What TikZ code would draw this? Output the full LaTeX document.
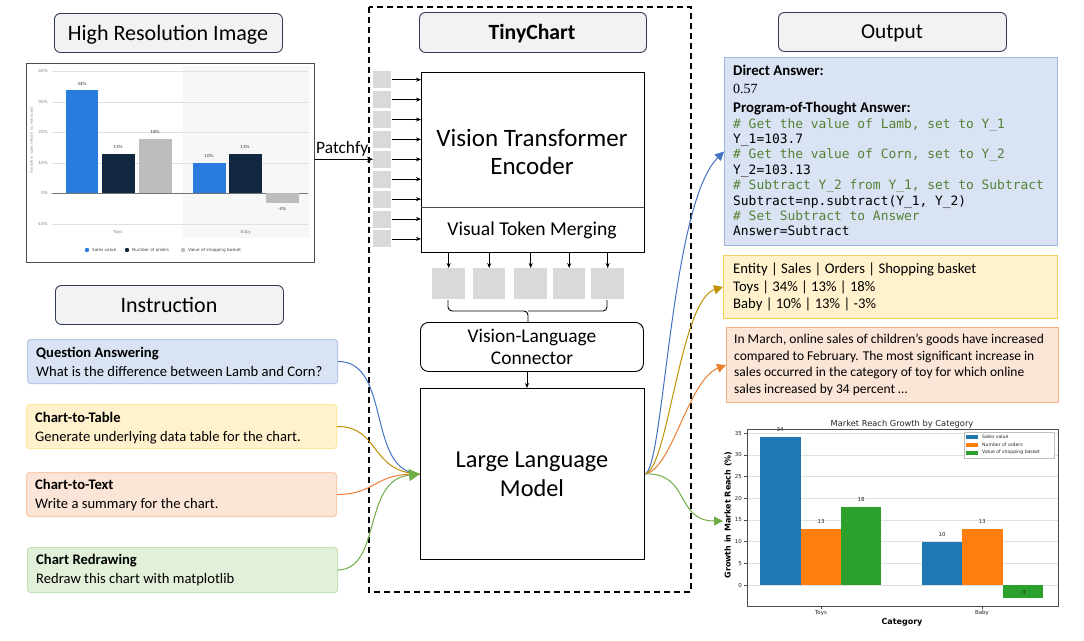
\documentclass[tikz,border=0pt]{standalone}
\usepackage{fontspec}
\setmainfont{Carlito}
\newfontfamily\codefont{DejaVu Sans Mono}
\newfontfamily\mplfont{DejaVu Sans}
\newfontfamily\numfont{Liberation Serif}
\usetikzlibrary{arrows.meta}
\newcommand\fsz[1]{\fontsize{#1}{#1}\selectfont}
\definecolor{navy}{HTML}{2F3B55}
\definecolor{titlefill}{HTML}{F2F2F2}
\definecolor{qafill}{HTML}{DAE3F3}\definecolor{qadraw}{HTML}{B4C7E7}
\definecolor{tabfill}{HTML}{FFF2CC}\definecolor{tabdraw}{HTML}{FFE699}
\definecolor{txtfill}{HTML}{FBE5D6}\definecolor{txtdraw}{HTML}{F8CBAD}
\definecolor{redfill}{HTML}{E2F0D9}\definecolor{reddraw}{HTML}{C5E0B4}
\definecolor{oblue}{HTML}{9DB4DE}\definecolor{ogold}{HTML}{F2CF5B}\definecolor{oorange}{HTML}{F4B183}
\definecolor{cblue}{HTML}{4472C4}\definecolor{cgold}{HTML}{BF9000}
\definecolor{corange}{HTML}{ED7D31}\definecolor{cgreen}{HTML}{70AD47}
\definecolor{codegreen}{HTML}{548235}
\definecolor{hrblue}{HTML}{2A7BDE}\definecolor{hrnavy}{HTML}{11263F}\definecolor{hrgray}{HTML}{BDBDBD}
\definecolor{mblue}{HTML}{1F77B4}\definecolor{morange}{HTML}{FF7F0E}\definecolor{mgreen}{HTML}{2CA02C}
\tikzset{
  titlebox/.style={draw=navy, fill=titlefill, rounded corners=6pt, line width=0.9pt, anchor=north west},
  plainbox/.style={draw=black, line width=0.9pt, anchor=north west, inner sep=0pt},
  instbox/.style={rounded corners=3pt, line width=1pt, anchor=north west, inner sep=0pt},
  outbox/.style={line width=1pt, anchor=north west, inner sep=0pt},
  patch/.style={fill=black!15, anchor=north west, minimum width=18, minimum height=17, inner sep=0pt},
  tok/.style={fill=black!15, anchor=north west, minimum height=31, inner sep=0pt},
  small arrow/.style={-{Stealth[length=5pt,width=4pt]}, line width=0.6pt},
  txt/.style={inner sep=0pt, anchor=base west},
  ctxt/.style={inner sep=0pt, anchor=base},
  conn/.style={line width=1pt},
  hrtxt/.style={inner sep=0pt, font=\mplfont\fontsize{4.2}{5}\selectfont},
  mpltxt/.style={inner sep=0pt, font=\mplfont\fontsize{5.5}{6}\selectfont, text=black!85},
}
\begin{document}
\begin{tikzpicture}[x=1pt,y=-1pt]
\useasboundingbox (0,0) rectangle (1084,640);
\fill[white] (0,0) rectangle (1084,640);

% ---------- Left column ----------
\node[titlebox, minimum width=228, minimum height=39] (hrt) at (54,13) {};
\node[ctxt] (hrtl) at (168,40) {\fsz{22}High Resolution Image};

% chart image
\node[plainbox, draw=black!70, line width=1.4pt, minimum width=288, minimum height=199] (hrimg) at (26,63) {};
\fill[black!3] (183,66) rectangle (310,238);
\foreach \yy in {71,102,132,163,224} \draw[black!12, line width=0.4pt] (52,\yy) -- (308,\yy);
\draw[black!55, line width=0.6pt] (52,193) -- (308,193);
\foreach \yy/\lab in {71/40\%,102/30\%,132/20\%,163/10\%,193/0\%,224/-10\%}
  \node[hrtxt, anchor=east, text=black!50] at (48,\yy) {\lab};
\node[hrtxt, rotate=90, text=black!45, font=\mplfont\fontsize{3.6}{4}\selectfont] (hry) at (32,140) {Growth in sales (March vs. February)};
\fill[hrblue] (66,90) rectangle (98,193);
\fill[hrnavy] (102,154) rectangle (135,193);
\fill[hrgray] (139,139) rectangle (172,193);
\fill[hrblue] (193,163) rectangle (226,193);
\fill[hrnavy] (229,154) rectangle (262,193);
\fill[hrgray] (266,193) rectangle (299,203);
\foreach \xx/\yy/\lab in {82/84/34\%,118/147/13\%,155/132/18\%,209/156/10\%,245/147/13\%,282/209/-3\%}
  \node[hrtxt, text=black!80] at (\xx,\yy) {\lab};
\node[hrtxt, text=black!50] at (118,232) {Toys};
\node[hrtxt, text=black!50] at (246,232) {Baby};
\fill[hrblue] (87,250) circle (2.2);
\node[hrtxt, anchor=west, text=black!75] at (92,250) {Sales value};
\fill[hrnavy] (127,250) circle (2.2);
\node[hrtxt, anchor=west, text=black!75] at (132,250) {Number of orders};
\fill[hrgray] (183,250) circle (2.2);
\node[hrtxt, anchor=west, text=black!75] at (188,250) {Value of shopping basket};

% Instruction
\node[titlebox, minimum width=228, minimum height=39] (inst) at (55,285) {};
\node[ctxt] (instl) at (169,312) {\fsz{22}Instruction};

\node[instbox, fill=qafill, draw=qadraw, minimum width=310, minimum height=44] (qa) at (27,339) {};
\node[txt] at (36,357) {\fsz{14.6}\bfseries Question Answering};
\node[txt] at (36,376) {\fsz{14.6}What is the difference between Lamb and Corn?};

\node[instbox, fill=tabfill, draw=tabdraw, minimum width=310, minimum height=44] (c2t) at (26,404) {};
\node[txt] at (35,422) {\fsz{14.6}\bfseries Chart-to-Table};
\node[txt] at (35,441) {\fsz{14.6}Generate underlying data table for the chart.};

\node[instbox, fill=txtfill, draw=txtdraw, minimum width=310, minimum height=44] (c2x) at (26,472) {};
\node[txt] at (35,489) {\fsz{14.6}\bfseries Chart-to-Text};
\node[txt] at (35,508) {\fsz{14.6}Write a summary for the chart.};

\node[instbox, fill=redfill, draw=reddraw, minimum width=310, minimum height=45] (crd) at (27,547) {};
\node[txt] at (36,564) {\fsz{14.6}\bfseries Chart Redrawing};
\node[txt] at (36,583) {\fsz{14.6}Redraw this chart with matplotlib};

% ---------- Center ----------
\draw[dashed, dash pattern=on 6pt off 4pt, line width=1.1pt] (369,7) rectangle (691,592);
\node[titlebox, minimum width=227, minimum height=40] (tc) at (419,12) {};
\node[ctxt] (tcl) at (532,39) {\fsz{21.7}\bfseries TinyChart};

\node[plainbox, minimum width=223, minimum height=180] (vit) at (421,72) {};
\draw[black!70, line width=0.6pt] (421,207) -- (644,207);
\node[ctxt] at (532,146) {\fsz{25}Vision Transformer};
\node[ctxt] at (532,174) {\fsz{25}Encoder};
\node[ctxt] at (532,235) {\fsz{19.6}Visual Token Merging};

\foreach \i in {1,...,9} {
  \node[patch] (p\i) at (373,{71+19.9*(\i-1)}) {};
  \draw[small arrow] (p\i.east) ++(1,0) -- (vit.west |- p\i.east);
}
\node[tok, minimum width=33] (t1) at (432,268) {};
\node[tok, minimum width=32] (t2) at (473,268) {};
\node[tok, minimum width=33] (t3) at (514,268) {};
\node[tok, minimum width=32] (t4) at (553,268) {};
\node[tok, minimum width=33] (t5) at (591,268) {};
\foreach \i in {1,...,5} \draw[small arrow] (vit.south -| t\i.north) -- (t\i.north);

\draw[line width=0.9pt, rounded corners=4pt] (448,300) |- (528,311) -- (528,322);
\draw[line width=0.9pt, rounded corners=4pt] (607,300) |- (528,311);

\node[plainbox, rounded corners=8pt, minimum width=223, minimum height=49] (vlc) at (420,322) {};
\node[ctxt] at (532,342) {\fsz{19.4}Vision-Language};
\node[ctxt] at (532,364) {\fsz{19.4}Connector};
\node[plainbox, minimum width=224, minimum height=171] (llm) at (420,388) {};
\node[ctxt] at (532,467) {\fsz{24.3}Large Language};
\node[ctxt] at (532,496) {\fsz{24.3}Model};
\draw[small arrow] (vlc.south -| 527,0) -- (llm.north -| 527,0);

% Patchfy
\draw[-{Stealth[length=6pt,width=5pt]}, line width=0.7pt] (hrimg.east |- p5.west) -- (p5.west);
\node[txt] (patchfy) at (316,153) {\fsz{17.4}Patchfy};

% ---------- Output ----------
\node[titlebox, minimum width=228, minimum height=39] (outt) at (778,12) {};
\node[ctxt] (outl) at (892,38) {\fsz{21.3}Output};

\node[outbox, fill=qafill, draw=oblue, minimum width=333, minimum height=188] (da) at (724,57) {};
\node[txt] at (733,75) {\fsz{14.8}\bfseries Direct Answer:};
\node[txt] at (733,93) {\numfont\fsz{14}0.57};
\node[txt] at (733,112) {\fsz{14.8}\bfseries Program-of-Thought Answer:};
\begin{scope}[every node/.append style={txt, font=\codefont\fontsize{12.9}{13}\selectfont}]
\node[text=codegreen] at (733,128) {\# Get the value of Lamb, set to Y\_1};
\node at (733,143.4) {Y\_1=103.7};
\node[text=codegreen] at (733,158.8) {\# Get the value of Corn, set to Y\_2};
\node at (733,174.2) {Y\_2=103.13};
\node[text=codegreen] at (733,189.6) {\# Subtract Y\_2 from Y\_1, set to Subtract};
\node at (733,205) {Subtract=np.subtract(Y\_1, Y\_2)};
\node[text=codegreen] at (733,220.4) {\# Set Subtract to Answer};
\node at (733,235.8) {Answer=Subtract};
\end{scope}

\node[outbox, fill=tabfill, draw=ogold, minimum width=334, minimum height=63] (tab) at (723,255) {};
\node[txt] at (733,273) {\fsz{14.7}Entity | Sales | Orders | Shopping basket};
\node[txt] at (733,291) {\fsz{14.7}Toys | 34\% | 13\% | 18\%};
\node[txt] at (733,308) {\fsz{14.7}Baby | 10\% | 13\% | -3\%};

\node[outbox, fill=txtfill, draw=oorange, minimum width=332, minimum height=75] (sum) at (726,327) {};
\begin{scope}[every node/.append style={txt, font=\fsz{13.5}}]
\node at (734,343) {In March, online sales of children’s goods have increased};
\node at (734,360) {compared to February. The most significant increase in};
\node at (734,376) {sales occurred in the category of toy for which online};
\node at (734,393) {sales increased by 34 percent …};
\end{scope}

% matplotlib chart
\node[inner sep=0pt, anchor=north west, minimum width=311, minimum height=177] (mpl) at (747,429) {};
\foreach \k in {0,...,7} {
  \pgfmathsetmacro\yy{585-5*\k*4.343}
  \draw[black!12, line width=0.4pt] (747,\yy) -- (1058,\yy);
  \draw[black!70, line width=0.4pt] (744,\yy) -- (747,\yy);
  \pgfmathtruncatemacro\v{5*\k}
  \node[mpltxt, anchor=east] at (742,\yy) {\v};
}
\fill[mblue] (760,437.3) rectangle (801,585);
\fill[morange] (801,528.5) rectangle (841,585);
\fill[mgreen] (841,506.8) rectangle (881,585);
\fill[mblue] (922,541.6) rectangle (962,585);
\fill[morange] (962,528.5) rectangle (1003,585);
\fill[mgreen] (1003,585) rectangle (1043,598);
\draw[black!70, line width=0.8pt] (mpl.north west) rectangle (mpl.south east);
\foreach \xx/\yy/\lab in {780/432/34,821/524/13,861/502/18,942/537/10,982/524/13}
  \node[mpltxt, anchor=south] at (\xx,\yy) {\lab};
\node[mpltxt] at (1023,592) {-3};
\draw[black!70, line width=0.4pt] (821,606) -- (821,609) (982,606) -- (982,609);
\node[mpltxt, anchor=north] at (821,610) {Toys};
\node[mpltxt, anchor=north] at (982,610) {Baby};
\node[ctxt, font=\mplfont\bfseries\fontsize{8}{9}\selectfont] (cat) at (902,624) {Category};
\node[inner sep=0pt, rotate=90, font=\mplfont\bfseries\fontsize{8}{9}\selectfont] (ylab) at (728,515) {Growth in Market Reach (\%)};
\node[ctxt, font=\mplfont\fontsize{8.3}{9}\selectfont, text=black!85] (mtitle) at (902,426) {Market Reach Growth by Category};
\draw[black!25, fill=white, line width=0.4pt] (964,432) rectangle (1054,458);
\fill[mblue] (966,434.5) rectangle (978,438.5);
\fill[morange] (966,442.5) rectangle (978,446.5);
\fill[mgreen] (966,450.5) rectangle (978,454.5);
\node[mpltxt, anchor=west, font=\mplfont\fontsize{4.6}{5}\selectfont] at (982,436.5) {Sales value};
\node[mpltxt, anchor=west, font=\mplfont\fontsize{4.6}{5}\selectfont] at (982,444.5) {Number of orders};
\node[mpltxt, anchor=west, font=\mplfont\fontsize{4.6}{5}\selectfont] at (982,452.5) {Value of shopping basket};

% ---------- Connectors ----------
\coordinate (llmin) at (llm.west);
\coordinate (llmout) at (llm.east);
\coordinate (mplin) at (723,521);
\draw[conn, cblue] (qa.east) .. controls (392,361) and (366,473) .. (llmin);
\draw[conn, cgold] (c2t.east) .. controls (380,426) and (370,473) .. (llmin);
\draw[conn, corange] (c2x.east) .. controls (378,494) and (372,473) .. (llmin);
\draw[conn, cgreen, -{Triangle[length=11pt,width=12pt]}] (crd.east) .. controls (382,569) and (362,480) .. (llmin);

\draw[conn, cblue, -{Triangle[length=9pt,width=9pt]}] (llmout) .. controls (664,470) and (670,205) .. (da.west);
\draw[conn, cgold, -{Triangle[length=9pt,width=9pt]}] (llmout) .. controls (668,470) and (680,300) .. (tab.west);
\draw[conn, corange, -{Triangle[length=9pt,width=9pt]}] (llmout) .. controls (672,470) and (688,380) .. (sum.west);
\draw[conn, cgreen, -{Triangle[length=9pt,width=9pt]}] (llmout) .. controls (690,472) and (675,521) .. (mplin);
\end{tikzpicture}
\end{document}
